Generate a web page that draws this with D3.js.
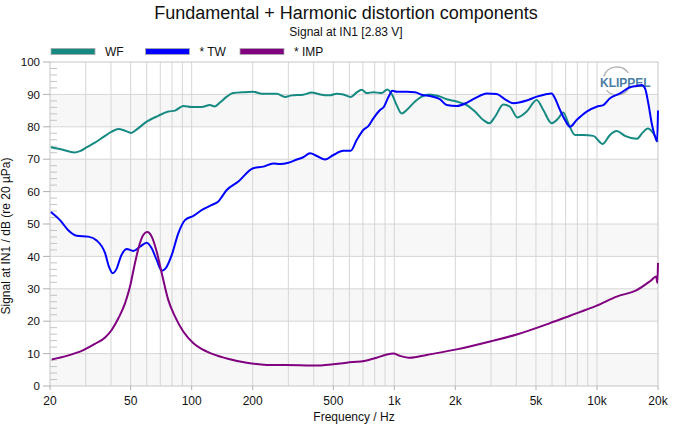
<html>
<head>
  <title></title>
  <script src="https://d3js.org/d3.v7.min.js"></script>
  <style type="text/css">
  body {
    margin: 0;
    background: #fff;
  }
  text {
    font-family: "Liberation Sans", Arial, Helvetica, sans-serif;
  }
  </style>
</head>
<body>
  <div id="viz"></div>

<script type="text/javascript">

const WIDTH = 685;
const HEIGHT = 427;
const LEFT = 50, RIGHT = 658, TOP = 62, BOTTOM = 386;

// values: frequency in Hz, level in dB
const wfFreq = [20.2, 22.9, 26.4, 28.1, 30.4, 33.3, 36.6, 40.3, 43.5, 46.9, 50.2, 53.6, 60, 68.4, 76.7, 82.8, 90.9, 100, 112, 123,
  130, 138, 149, 160, 182, 201, 222, 263, 289, 312, 355, 391, 430, 481, 519, 560, 609, 652, 690, 731,
  788, 866, 923, 977, 1027, 1087, 1151, 1265, 1365, 1488, 1648, 1813, 2031, 2275, 2500, 2748, 2942, 3139, 3450, 3722,
  4044, 4499, 5040, 5433, 5976, 6442, 6819, 7216, 7788, 8557, 9587, 10670, 11590, 12510, 13740, 15700, 16800, 17790, 18960, 19930];
const wfDb = [73.7, 73.0, 72.1, 72.5, 73.7, 75.1, 76.8, 78.5, 79.3, 78.8, 78.1, 79.2, 81.6, 83.4, 84.7, 85.0, 86.4, 86.1, 86.1, 86.7,
  86.3, 87.5, 89.3, 90.4, 90.7, 90.8, 90.2, 90.2, 89.2, 89.7, 89.9, 90.6, 90.0, 89.7, 90.2, 90.0, 89.2, 90.6, 91.4, 90.4,
  90.7, 90.4, 91.5, 89.8, 86.7, 84.1, 85.2, 87.8, 89.3, 90.0, 89.5, 88.5, 87.8, 86.7, 84.7, 82.1, 81.1, 83.1, 86.9, 86.2,
  82.9, 84.7, 88.3, 85.2, 81.1, 82.6, 84.4, 81.1, 77.5, 77.5, 77.2, 74.7, 77.5, 78.7, 77.2, 76.3, 78.2, 79.5, 78.0, 75.4];

const twFreq = [20.2, 22.4, 24.6, 27.1, 30.9, 34.0, 37.4, 39.1, 40.8, 42.7, 44.8, 47.8, 51.5, 55.6, 60, 63.5, 67.2, 71.2, 74.4, 79.7,
  85.9, 92.7, 102, 112, 126, 135, 149, 170, 201, 226, 253, 273, 300, 330, 355, 384, 414, 455, 500, 560,
  609, 652, 703, 744, 788, 850, 889, 934, 977, 1027, 1151, 1265, 1365, 1500, 1680, 1813, 2031, 2275, 2549, 2856,
  3200, 3516, 3864, 4499, 5040, 5539, 5976, 6204, 6569, 6950, 7358, 7938, 8895, 9963, 10740, 11590, 12990, 14550, 15700, 16610,
  17250, 17910, 18620, 19330, 19800, 20000];
const twDb = [53.7, 51.2, 48.1, 46.4, 46.1, 44.9, 41.0, 36.8, 34.8, 36.3, 40.1, 42.3, 41.7, 43.0, 44.2, 42.5, 38.9, 35.6, 36.3, 40.4,
  47.1, 51.2, 52.5, 54.3, 55.9, 56.9, 60.5, 63.1, 67.2, 67.7, 68.7, 68.5, 68.9, 69.9, 70.6, 71.8, 71.0, 69.9, 71.3, 72.6,
  72.6, 75.9, 79.0, 80.2, 82.6, 85.2, 86.2, 89.1, 91.1, 90.8, 90.8, 90.7, 89.9, 89.5, 88.5, 86.7, 86.4, 87.4, 89.1, 90.3,
  90.1, 88.5, 87.3, 88.1, 89.3, 90.0, 90.3, 88.8, 85.2, 82.1, 80.0, 82.1, 84.7, 86.2, 86.7, 88.8, 90.3, 92.2, 92.6, 92.9,
  91.9, 87.3, 81.1, 77.0, 75.5, 85.0];

const impFreq = [20.4, 24.2, 29.2, 33.3, 37.4, 40.3, 43.5, 46.9, 49.6, 52.5, 55.2, 57.7, 60.4, 63.5, 67.2, 71.2, 76.7, 82.8, 90.9, 102,
  119, 149, 187, 235, 342, 414, 582, 731, 818, 917, 988, 1067, 1195, 1444, 2031, 3078, 4017, 5862, 7358, 9963,
  12510, 15700, 18400, 19600, 19850, 20000];
const impDb = [8.2, 9.3, 11.1, 13.0, 15.0, 17.3, 20.9, 25.5, 30.6, 37.9, 43.5, 46.6, 47.5, 46.1, 41.5, 34.8, 26.5, 21.4, 16.8, 13.2,
  10.6, 8.5, 7.2, 6.5, 6.4, 6.3, 7.2, 7.9, 8.7, 9.7, 10.0, 9.3, 8.7, 9.6, 11.3, 14.0, 15.9, 19.4, 21.7, 24.8,
  27.6, 29.6, 32.5, 33.8, 31.8, 38.0];

const freqTicks = [20, 50, 100, 200, 500, 1000, 2000, 5000, 10000, 20000];
const freqLabels = ["20", "50", "100", "200", "500", "1k", "2k", "5k", "10k", "20k"];
const dbTicks = [0, 10, 20, 30, 40, 50, 60, 70, 80, 90, 100];

const seriesNames = ["WF", "* TW", "* IMP"];
const seriesColors = ["#168a82", "#0000ff", "#800080"];

const x = d3.scaleLog().domain([20, 20000]).range([LEFT, RIGHT]);
const y = d3.scaleLinear().domain([0, 100]).range([BOTTOM, TOP]);

let svg = d3.select("#viz")
  .append("svg")
  .attr("width", WIDTH)
  .attr("height", HEIGHT);

svg.append("defs").append("clipPath")
  .attr("id", "plot")
  .append("rect")
  .attr("x", LEFT)
  .attr("y", TOP - 2)
  .attr("width", RIGHT - LEFT + 1)
  .attr("height", BOTTOM - TOP + 4);

// alternating bands
svg.selectAll(".band")
  .data(dbTicks.filter(d => d % 20 === 0 && d < 100))
  .enter().append("rect")
  .attr("x", LEFT)
  .attr("width", RIGHT - LEFT)
  .attr("y", d => y(d + 10))
  .attr("height", d => y(d) - y(d + 10))
  .attr("fill", "#f7f7f7");

// grid
let gridFreqs = [];
[10, 100, 1000, 10000].forEach(dec => {
  for (let k = 1; k < 10; k++) {
    let f = dec * k;
    if (f > 20 && f < 20000) gridFreqs.push(f);
  }
});

svg.selectAll(".vgrid")
  .data(gridFreqs)
  .enter().append("line")
  .attr("x1", d => x(d))
  .attr("x2", d => x(d))
  .attr("y1", TOP)
  .attr("y2", BOTTOM)
  .style("stroke", "#d6d6d6")
  .style("stroke-width", 1);

svg.selectAll(".hgrid")
  .data(dbTicks.slice(1, -1))
  .enter().append("line")
  .attr("x1", LEFT)
  .attr("x2", RIGHT)
  .attr("y1", d => y(d))
  .attr("y2", d => y(d))
  .style("stroke", "#d6d6d6")
  .style("stroke-width", 1);

// minor ticks inside left edge
svg.selectAll(".minor")
  .data(d3.range(2, 100, 2).filter(d => d % 10 !== 0))
  .enter().append("line")
  .attr("x1", LEFT)
  .attr("x2", LEFT + 7)
  .attr("y1", d => y(d))
  .attr("y2", d => y(d))
  .style("stroke", "#c4c4c4")
  .style("stroke-width", 1);

svg.append("rect")
  .attr("x", LEFT)
  .attr("y", TOP)
  .attr("width", RIGHT - LEFT)
  .attr("height", BOTTOM - TOP)
  .attr("fill", "none")
  .style("stroke", "#c6c6c6")
  .style("stroke-width", 1);

// axes
svg.selectAll(".ytick")
  .data(dbTicks)
  .enter().append("line")
  .attr("x1", LEFT - 7)
  .attr("x2", LEFT)
  .attr("y1", d => y(d))
  .attr("y2", d => y(d))
  .style("stroke", "#b0b0b0");

svg.selectAll(".ylabel")
  .data(dbTicks)
  .enter().append("text")
  .attr("x", 40)
  .attr("y", d => y(d))
  .attr("dy", "0.36em")
  .attr("text-anchor", "end")
  .style("font-size", "11.5px")
  .attr("fill", "#111")
  .text(d => d);

svg.selectAll(".xtick")
  .data(freqTicks)
  .enter().append("line")
  .attr("x1", d => x(d))
  .attr("x2", d => x(d))
  .attr("y1", BOTTOM)
  .attr("y2", BOTTOM + 4)
  .style("stroke", "#b0b0b0");

svg.selectAll(".xlabel")
  .data(freqTicks)
  .enter().append("text")
  .attr("x", d => x(d))
  .attr("y", 405)
  .attr("text-anchor", "middle")
  .style("font-size", "12px")
  .attr("fill", "#111")
  .text((d, i) => freqLabels[i]);

svg.append("text")
  .attr("x", (LEFT + RIGHT) / 2)
  .attr("y", 421)
  .attr("text-anchor", "middle")
  .style("font-size", "12px")
  .attr("fill", "#111")
  .text("Frequency / Hz");

svg.append("text")
  .attr("transform", "translate(10,236) rotate(-90)")
  .attr("text-anchor", "middle")
  .style("font-size", "12px")
  .attr("fill", "#111")
  .text("Signal at IN1 / dB (re 20 µPa)");

// titles
svg.append("text")
  .attr("x", 346)
  .attr("y", 19)
  .attr("text-anchor", "middle")
  .style("font-size", "18px")
  .attr("fill", "#111")
  .text("Fundamental + Harmonic distortion components");

svg.append("text")
  .attr("x", 346)
  .attr("y", 36)
  .attr("text-anchor", "middle")
  .style("font-size", "12px")
  .attr("fill", "#111")
  .text("Signal at IN1 [2.83 V]");

// legend
let legend = svg.selectAll(".legend")
  .data(seriesNames)
  .enter().append("g")
  .attr("transform", (d, i) => `translate(${51 + i * 94.5},0)`);

legend.append("rect")
  .attr("x", 0)
  .attr("y", 48.5)
  .attr("width", 44)
  .attr("height", 6)
  .attr("fill", (d, i) => seriesColors[i])
  .style("stroke", "#a8a8a8")
  .style("stroke-width", 0.8);

legend.append("text")
  .attr("x", 54)
  .attr("y", 55.5)
  .style("font-size", "12px")
  .attr("fill", "#111")
  .text(d => d);

// logo
let arc = d3.arc().innerRadius(14).outerRadius(14);
let logo = svg.append("g").attr("transform", "translate(617,81)");
[[-1.25, 0.95], [2.25, 4.0]].forEach(a => {
  logo.append("path")
    .attr("d", arc({startAngle: a[0], endAngle: a[1]}))
    .attr("fill", "none")
    .style("stroke", "#b4b4b4")
    .style("stroke-width", 1.4);
});
svg.append("text")
  .attr("x", 600)
  .attr("y", 87)
  .style("font-size", "12px")
  .style("font-weight", "bold")
  .attr("fill", "#4d7fa4")
  .text("KLIPPEL");

// curves
const series = [
  {freq: wfFreq, db: wfDb},
  {freq: twFreq, db: twDb},
  {freq: impFreq, db: impDb}
];

let line = d3.line()
  .x(d => x(d[0]))
  .y(d => y(d[1]))
  .curve(d3.curveMonotoneX);

let curves = svg.append("g").attr("clip-path", "url(#plot)");

series.forEach((s, i) => {
  curves.append("path")
    .attr("d", line(s.freq.map((f, j) => [f, s.db[j]])))
    .attr("fill", "none")
    .style("stroke", seriesColors[i])
    .style("stroke-width", 2)
    .style("stroke-linejoin", "round");
});

</script>
</body>
</html>
